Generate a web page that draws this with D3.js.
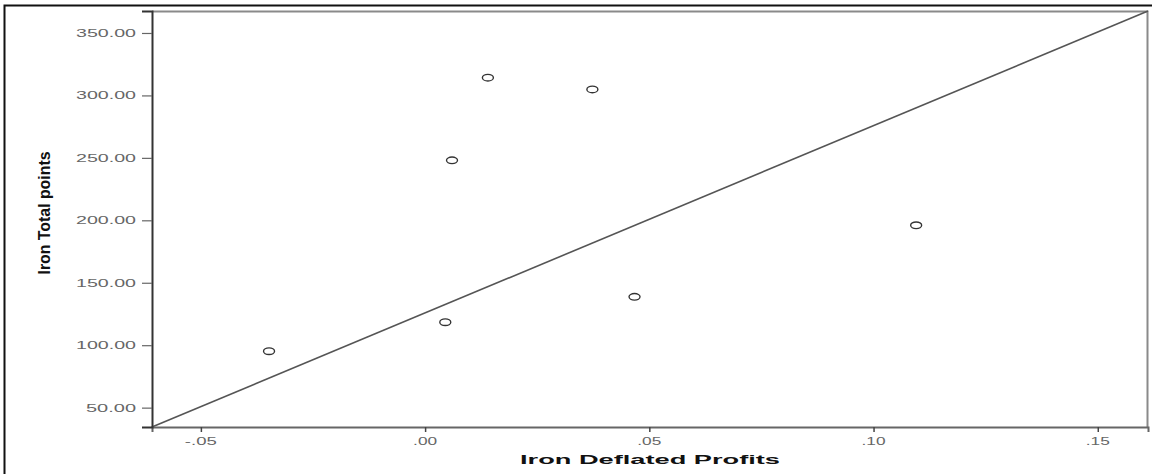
<!DOCTYPE html>
<html>
<head>
<meta charset="utf-8">
<script src="https://cdn.jsdelivr.net/npm/d3@7"></script>
<style>
  body { margin: 0; background: #fff; }
  .tick-label { font-family: "Liberation Sans", Arial, sans-serif; fill: #666; }
  .axis-title { font-family: "Liberation Sans", Arial, sans-serif; font-weight: bold; fill: #111; }
</style>
</head>
<body>
<div id="scatterplot"></div>
<script>
// Data
const deflatedProfits = [-0.0348, 0.0045, 0.0060, 0.0140, 0.0373, 0.0467, 0.1095];
const totalPoints     = [95.2, 118.4, 248.0, 314.2, 304.8, 138.7, 196.0];
const xTicks = [-0.05, 0.00, 0.05, 0.10, 0.15];
const yTicks = [50, 100, 150, 200, 250, 300, 350];
const xDomain = [-0.0609, 0.1612];
const yDomain = [34.5, 367.6];

const width = 1152, height = 474;
const margin = { left: 152, top: 11, right: 4, bottom: 47 };
const innerWidth = width - margin.left - margin.right;
const innerHeight = height - margin.top - margin.bottom;

const svg = d3.select("#scatterplot")
    .append("svg")
    .attr("width", width)
    .attr("height", height);

// outer frame (left and top edges visible)
svg.append("path")
    .attr("d", `M4.5,${height} V5.5 H${width}`)
    .attr("fill", "none")
    .attr("stroke", "#111")
    .attr("stroke-width", 2);

const inner = svg.append("g")
    .attr("transform", `translate(${margin.left},${margin.top})`);

const x = d3.scaleLinear().domain(xDomain).range([0, innerWidth]);
const y = d3.scaleLinear().domain(yDomain).range([innerHeight, 0]);

// plot box: top and right in lighter grey
inner.append("path")
    .attr("d", `M0,0.5 H${innerWidth - 0.5} V${innerHeight}`)
    .attr("fill", "none")
    .attr("stroke", "#8a8a8a")
    .attr("stroke-width", 2);

// reference line corner to corner
inner.append("line")
    .attr("x1", x(xDomain[0])).attr("y1", y(yDomain[0]))
    .attr("x2", x(xDomain[1])).attr("y2", y(yDomain[1]))
    .attr("stroke", "#555")
    .attr("stroke-width", 1.6);

// axes
const bottomAxis = d3.axisBottom(x).tickValues(xTicks).tickSize(5).tickFormat(() => "");
const gx = inner.append("g")
    .attr("transform", `translate(0,${innerHeight})`)
    .call(bottomAxis);
gx.select(".domain").attr("stroke", "#666").attr("stroke-width", 2);
gx.selectAll(".tick line").attr("stroke", "#444").attr("stroke-width", 1.5);

const leftAxis = d3.axisLeft(y).tickValues(yTicks).tickSize(10).tickFormat(() => "");
const gy = inner.append("g").call(leftAxis);
gy.select(".domain").attr("stroke", "#333").attr("stroke-width", 2);
gy.selectAll(".tick line").attr("stroke", "#666").attr("stroke-width", 1.2);

// stretched tick labels
const fmtX = d => (d < 0 ? "-" : "") + Math.abs(d).toFixed(2).replace(/^0\./, ".");
xTicks.forEach(t => {
    const s = fmtX(t);
    inner.append("text")
        .attr("class", "tick-label")
        .attr("x", x(t))
        .attr("y", innerHeight + 18)
        .attr("text-anchor", "middle")
        .attr("font-size", 11)
        .attr("textLength", s.length * 8)
        .attr("lengthAdjust", "spacingAndGlyphs")
        .text(s);
});
yTicks.forEach(t => {
    const s = d3.format(".2f")(t);
    inner.append("text")
        .attr("class", "tick-label")
        .attr("x", -16)
        .attr("y", y(t) + 4)
        .attr("text-anchor", "end")
        .attr("font-size", 11)
        .attr("textLength", s.length * 10)
        .attr("lengthAdjust", "spacingAndGlyphs")
        .text(s);
});

// points
inner.selectAll("ellipse")
    .data(deflatedProfits.map((d, i) => ({ x: d, y: totalPoints[i] })))
    .join("ellipse")
    .attr("cx", d => x(d.x))
    .attr("cy", d => y(d.y))
    .attr("rx", 5.5)
    .attr("ry", 3.3)
    .attr("fill", "none")
    .attr("stroke", "#333")
    .attr("stroke-width", 1.4);

// axis titles
svg.append("text")
    .attr("class", "axis-title")
    .attr("x", margin.left + innerWidth / 2)
    .attr("y", 464)
    .attr("text-anchor", "middle")
    .attr("font-size", 12.5)
    .attr("textLength", 260)
    .attr("lengthAdjust", "spacingAndGlyphs")
    .text("Iron Deflated Profits");

svg.append("text")
    .attr("class", "axis-title")
    .attr("transform", `translate(50,213) rotate(-90)`)
    .attr("text-anchor", "middle")
    .attr("font-size", 17)
    .attr("textLength", 123)
    .attr("lengthAdjust", "spacingAndGlyphs")
    .text("Iron Total points");
</script>
</body>
</html>
